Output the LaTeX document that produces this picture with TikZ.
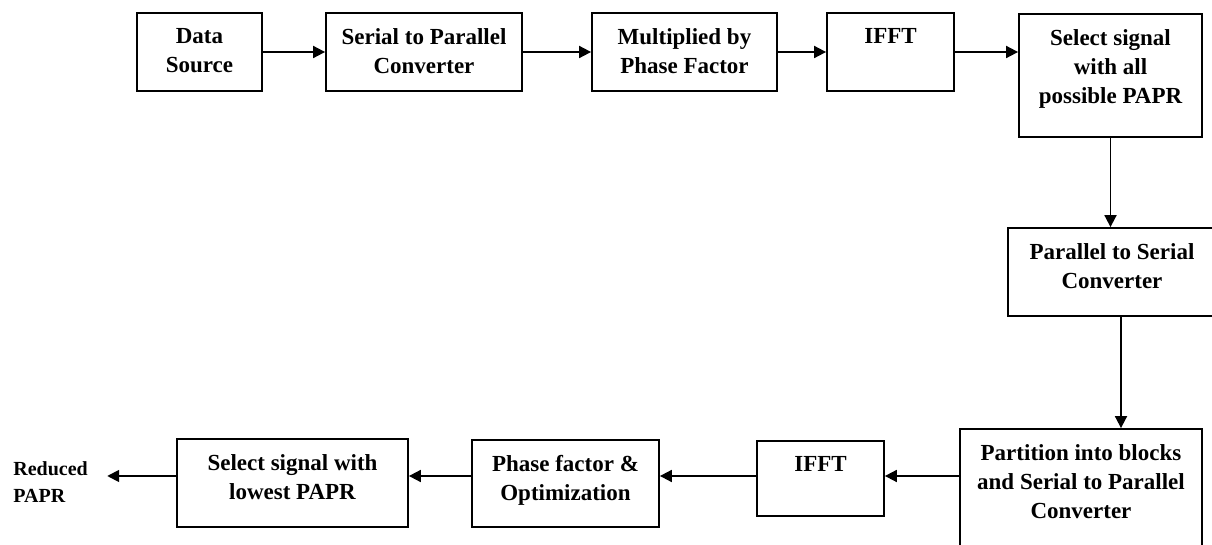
\documentclass[tikz,border=0pt]{standalone}
\usepackage{fontspec}
\setmainfont{Liberation Serif}
\usetikzlibrary{positioning,calc,arrows.meta}

\tikzset{
  blk/.style={draw, line width=0.9pt, inner sep=0pt},
  lbl/.style={font=\bfseries\fontsize{11.5}{14.5}\selectfont, align=center, inner sep=0pt, anchor=north},
  arr/.style={line width=0.9pt, -{Triangle[length=6pt,width=6pt]}}
}

\begin{document}
\begin{tikzpicture}[x=0.5pt,y=-0.5pt]
  \useasboundingbox (0,0) rectangle (1212,545);
  \clip (0,0) rectangle (1212,545);
  % top row
  \node[blk, minimum width=62.5pt, minimum height=39pt] (src) at (199.5,52) {};
  \node[lbl, below=8pt of src.north] (srct) {Data\\Source};
  \node[blk, minimum width=98pt, minimum height=39pt] (sp) at (424,52) {};
  \node[lbl, below=8pt of sp.north] (spt) {Serial to Parallel\\Converter};
  \node[blk, minimum width=92.5pt, minimum height=39pt] (mul) at (684.5,52) {};
  \node[lbl, below=8pt of mul.north] (mult) {Multiplied by\\Phase Factor};
  \node[blk, minimum width=63.5pt, minimum height=39pt] (fft) at (890.5,52) {};
  \node[lbl, below=8pt of fft.north] (fftt) {IFFT};
  \node[blk, minimum width=91.5pt, minimum height=61.5pt] (sel) at (1110.5,75.5) {};
  \node[lbl, below=8pt of sel.north] (selt) {Select signal\\with all\\possible PAPR};
  % right column
  \node[blk, minimum width=104pt, minimum height=44pt] (ps) at (1112,272) {};
  \node[lbl, below=8pt of ps.north] (pst) {Parallel to Serial\\Converter};
  \node[blk, minimum width=121pt, minimum height=71pt] (part) at (1081,500) {};
  \node[lbl, below=8pt of part.north] (partt) {Partition into blocks\\and Serial to Parallel\\Converter};
  % bottom row
  \node[blk, minimum width=63.5pt, minimum height=37.5pt] (fftb) at (820.5,478.5) {};
  \node[lbl, below=8pt of fftb.north] (fftbt) {IFFT};
  \node[blk, minimum width=93.5pt, minimum height=43.5pt] (opt) at (565.5,483.5) {};
  \node[lbl, below=8pt of opt.north] (optt) {Phase factor \&\\Optimization};
  \node[blk, minimum width=115.5pt, minimum height=44pt] (low) at (292.5,483) {};
  \node[lbl, below=8pt of low.north] (lowt) {Select signal with\\lowest PAPR};
  \node[font=\bfseries\fontsize{10}{13.5}\selectfont, align=left, inner sep=0pt, anchor=west] (out) at (13,482) {Reduced\\PAPR};

  % arrows
  \draw[arr] (src) -- (sp);
  \draw[arr] (sp) -- (mul);
  \draw[arr] (mul) -- (fft);
  \draw[arr] (fft.east) -- (fft.east -| sel.west);
  \draw[arr] (sel.south) -- (sel.south |- ps.north);
  \coordinate (psout) at ($(ps.south)+(9,0)$);
  \draw[arr] (psout) -- (psout |- part.north);
  \coordinate (lane) at (0,476);
  \draw[arr] (part.west |- lane) -- (fftb.east |- lane);
  \draw[arr] (fftb.west |- lane) -- (opt.east |- lane);
  \draw[arr] (opt.west |- lane) -- (low.east |- lane);
  \draw[arr] (low.west |- lane) -- ($(out.east |- lane)+(19,0)$);
\end{tikzpicture}
\end{document}
